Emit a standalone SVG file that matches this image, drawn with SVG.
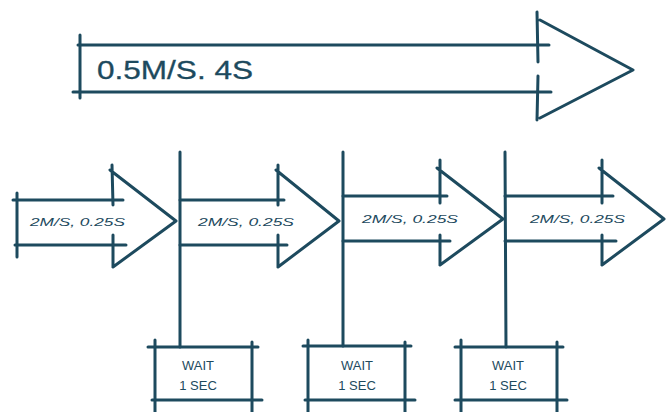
<svg xmlns="http://www.w3.org/2000/svg" width="671" height="412" viewBox="0 0 671 412">
<style>
.s{fill:none;stroke:#1d4a5e;stroke-width:3;stroke-linecap:round;stroke-linejoin:round}
.t{font-family:"Liberation Sans",Arial,sans-serif;fill:#1d4a5e}
.big{font-size:25px;stroke:#1d4a5e;stroke-width:0.3}
.sm{font-size:11px;font-style:italic}
.w{font-size:13px;text-anchor:middle}
</style>
<rect width="671" height="412" fill="#fff"/>
<g id="top-arrow">
<path class="s" d="M80,35 L80,98 M78,45 L549,45 M73,92 L551,92 M537,12 L538,62 M538,76 L537,120 M540,20 L633,70 L540,118"/>
<text class="t big" x="97" y="79" textLength="156" lengthAdjust="spacingAndGlyphs">0.5M/S. 4S</text>
</g>
<g id="arrow1">
<path class="s" d="M17,193 L17,257 M13,200 L123,200 M15,245 L126,245 M112,165 L113,205 M113,235 L113,267 M110,170 L176,221 L113,267"/>
<text class="t sm" x="30" y="226" textLength="95" lengthAdjust="spacingAndGlyphs">2M/S, 0.25S</text>
</g>
<g id="arrow2">
<path class="s" d="M180,200 L284,200 M180,245 L287,245 M278,165 L278,205 M278,235 L278,267 M276,170 L339,221 L278,267"/>
<text class="t sm" x="198" y="226" textLength="96" lengthAdjust="spacingAndGlyphs">2M/S, 0.25S</text>
</g>
<g id="arrow3">
<path class="s" d="M343,196 L447,196 M343,241 L450,241 M440,160 L440,203 M440,235 L440,265 M437,168 L503,219 L440,265"/>
<text class="t sm" x="362" y="223" textLength="96" lengthAdjust="spacingAndGlyphs">2M/S, 0.25S</text>
</g>
<g id="arrow4">
<path class="s" d="M505,196 L613,196 M505,241 L616,241 M602,160 L602,203 M602,235 L602,265 M599,168 L664,219 L602,265"/>
<text class="t sm" x="530" y="223" textLength="95" lengthAdjust="spacingAndGlyphs">2M/S, 0.25S</text>
</g>
<g id="wait1">
<path class="s" d="M155,340 L155,412 M148,347 L258,347 M252,342 L252,412 M152,400 L262,400"/>
<text class="t w" x="198" y="370">WAIT</text>
<text class="t w" x="198" y="390">1 SEC</text>
</g>
<g id="wait2">
<path class="s" d="M308,340 L308,412 M303,346 L411,346 M405,342 L405,412 M305,400 L415,400"/>
<text class="t w" x="357" y="370">WAIT</text>
<text class="t w" x="357" y="390">1 SEC</text>
</g>
<g id="wait3">
<path class="s" d="M461,340 L461,412 M455,347 L563,347 M557,342 L557,412 M455,400 L567,400"/>
<text class="t w" x="508" y="370">WAIT</text>
<text class="t w" x="508" y="390">1 SEC</text>
</g>
<g id="connectors">
<path class="s" d="M180,152 L180,347 M343,152 L343,346 M505,152 L506,347"/>
</g>
</svg>
